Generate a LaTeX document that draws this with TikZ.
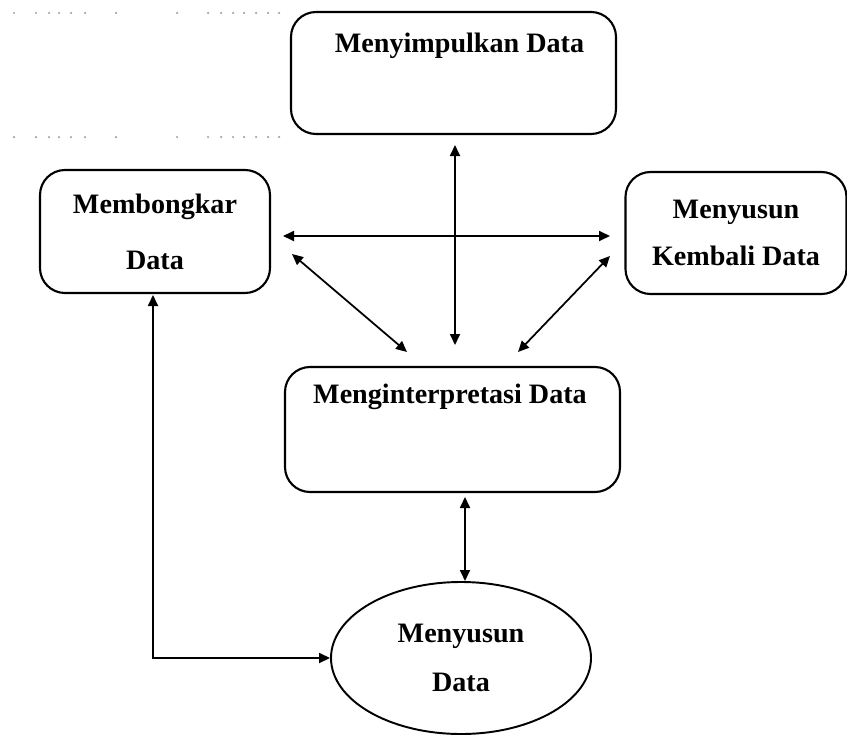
\documentclass[tikz,border=0pt]{standalone}
\usepackage{fontspec}
\setmainfont{Liberation Serif}
\usepackage{tikz}
\usetikzlibrary{arrows.meta,positioning,shapes.geometric}
\tikzset{
	box/.style={draw,rectangle,rounded corners=0.5cm,line width=1.2pt},
	oval/.style={draw,ellipse,line width=1.1pt,align=center},
	teks/.style={font=\bfseries\fontsize{16}{19}\selectfont,align=center},
	dua/.style={{Triangle[length=2.2mm,width=2mm]}-{Triangle[length=2.2mm,width=2mm]},line width=1pt},
	titik/.style={fill=gray!70,draw=none}
}
\begin{document}
\begin{tikzpicture}
	\useasboundingbox (0,0) rectangle (16.94,-14.72);
	% dotted rows top left
	\foreach \px in {14,36,49,59,71,85,116,177,208,221,233,244,256,268,279}{
		\fill[titik] (\px/50,-0.26) circle (0.025);
		\fill[titik] (\px/50,-2.74) circle (0.025);
	}
	% boxes
	\node[box,minimum width=6.5cm,minimum height=2.44cm] (simpul) at (9.07,-1.46) {};
	\node[teks] (simpultxt) at (9.19,-0.92) {Menyimpulkan Data};
	\node[box,teks,minimum width=4.6cm,minimum height=2.46cm] (bongkar) at (3.1,-4.63) {Membongkar\\[13pt]Data};
	\node[box,teks,minimum width=4.42cm,minimum height=2.44cm] (kembali) at (14.72,-4.66) {Menyusun\\[8pt]Kembali Data};
	\node[box,minimum width=6.7cm,minimum height=2.5cm] (tafsir) at (9.05,-8.59) {};
	\node[teks] (tafsirtxt) at (9.0,-7.94) {Menginterpretasi Data};
	\node[oval,teks,minimum width=5.2cm,minimum height=3.04cm,inner sep=0pt] (susun) at (9.22,-13.16) {Menyusun\\[9pt]Data};
	% loose ends
	\coordinate (hkiri) at (5.66,-4.72);
	\coordinate (hkanan) at (12.2,-4.72);
	\coordinate (vatas) at (9.1,-2.9);
	\coordinate (vbawah) at (9.1,-6.9);
	\coordinate (dkiri) at (5.84,-5.08);
	\coordinate (dkiribawah) at (8.14,-7.04);
	\coordinate (dkanan) at (12.2,-5.12);
	\coordinate (dkananbawah) at (10.36,-7.04);
	\coordinate (tafsirbawah) at (9.3,-9.94);
	\coordinate (susunatas) at (9.3,-11.62);
	\coordinate (bongkarbawah) at (3.06,-5.9);
	% arrows
	\draw[dua] (hkiri) -- (hkanan);
	\draw[dua] (vatas) -- (vbawah);
	\draw[dua] (dkiri) -- (dkiribawah);
	\draw[dua] (dkanan) -- (dkananbawah);
	\draw[dua] (tafsirbawah) -- (susunatas);
	\draw[dua] (bongkarbawah) |- (susun.west);
\end{tikzpicture}
\end{document}
